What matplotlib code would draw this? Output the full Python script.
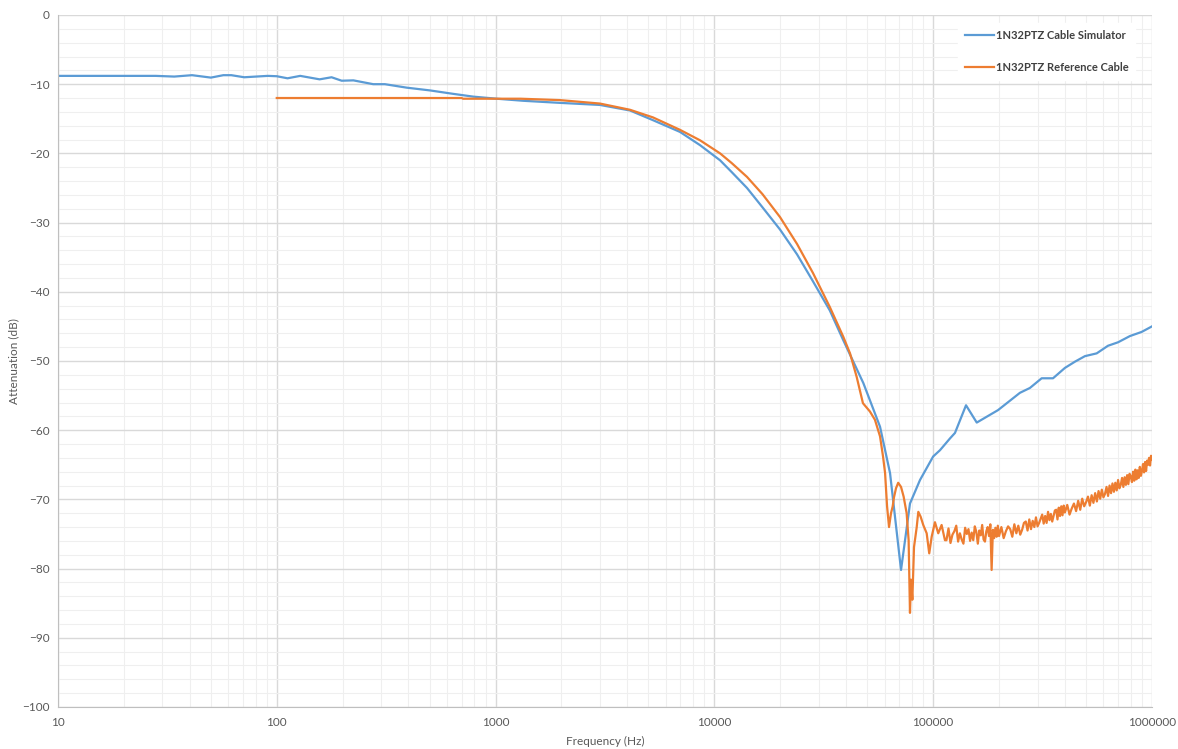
import matplotlib
matplotlib.use("Agg")
import matplotlib.pyplot as plt
import numpy as np
from matplotlib.ticker import FixedLocator, LogLocator, NullFormatter

plt.rcParams['font.family'] = ['Lato', 'DejaVu Sans']

# 1N32PTZ Cable Simulator (Hz, dB)
sim_freq = [10, 28, 34, 41, 50, 57, 62, 71, 91, 100, 112, 128, 157, 178, 198, 224,
            276, 312, 392, 501, 641, 791, 1011, 1339, 1968, 3000, 4115, 5240, 6966,
            8590, 10620, 12000, 14100, 16600, 19950, 23880, 28240, 33700, 38830,
            47970, 57170, 63520, 71310, 78350, 87060, 100000, 107400, 119300,
            125800, 141300, 158200, 197900, 249200, 276800, 313200, 353000, 400200,
            444600, 494000, 558900, 629500, 699600, 793000, 897200, 1000000]
sim_db = [-8.8, -8.8, -8.9, -8.7, -9.05, -8.7, -8.7, -9.0, -8.8, -8.85, -9.15, -8.8,
          -9.3, -9.0, -9.5, -9.45, -10.0, -10.0, -10.5, -10.9, -11.4, -11.8, -12.1,
          -12.4, -12.7, -13.0, -13.8, -15.2, -16.9, -18.8, -21.0, -22.7, -25.0,
          -27.8, -31.0, -34.6, -38.5, -42.7, -47.0, -53.2, -59.5, -66.2, -80.2,
          -70.6, -67.2, -63.8, -62.9, -61.2, -60.4, -56.4, -58.9, -57.1, -54.6,
          -53.9, -52.5, -52.5, -51.0, -50.1, -49.3, -48.9, -47.8, -47.3, -46.4,
          -45.8, -45.0]

# 1N32PTZ Reference Cable, up to ~113 kHz
ref_freq = [100, 700, 710, 1300, 1968, 3000, 4115, 5240, 6966, 8590, 10620, 12000,
            14100, 16600, 19950, 23880, 28240, 33700, 38830, 41690, 44710, 47760,
            51400, 54190, 57170, 59000, 60290, 61560, 62850, 64170, 65320, 66220,
            67620, 69210, 71310, 73290, 75640, 77240, 78350, 79180, 80330, 81740,
            84110, 85530, 87640, 90100, 93400, 95950, 98440, 101900, 105500, 109300,
            113200]
ref_db = [-12.0, -12.0, -12.1, -12.1, -12.3, -12.8, -13.7, -14.8, -16.6, -18.1,
          -20.0, -21.4, -23.4, -25.9, -29.2, -33.1, -37.3, -42.2, -46.5, -48.9,
          -52.3, -56.1, -57.3, -58.5, -60.9, -63.8, -66.2, -71.0, -74.0, -72.0,
          -71.0, -69.7, -68.4, -67.6, -68.2, -69.6, -72.0, -75.9, -86.4, -81.6,
          -84.5, -76.9, -74.0, -71.8, -72.5, -73.7, -74.9, -77.8, -75.4, -73.3,
          -74.9, -73.7, -75.9]

# noisy tail, sampled 115k-197.5k / 200k-395k / 400k-1M
tail_a_db = [-75.9, -74.2, -76.3, -75.1, -74.6, -73.8, -76.1, -74.9, -75.8, -76.4,
             -74.1, -75.0, -74.3, -76.0, -74.8, -75.9, -73.9, -74.7, -76.4, -74.5,
             -75.2, -73.7, -75.8, -76.1, -74.6, -74.0, -75.3, -73.6, -80.2, -74.4,
             -75.6, -74.1, -75.4, -73.8]
tail_b_db = [-75.3, -74.0, -75.6, -74.6, -73.9, -74.3, -75.4, -73.6, -74.9, -73.8,
             -75.1, -74.4, -73.4, -73.2, -74.5, -72.9, -74.3, -73.1, -74.0, -72.6,
             -73.9, -73.4, -72.8, -72.2, -73.5, -72.4, -73.4, -71.8, -73.0, -72.1,
             -73.2, -72.4, -71.6, -71.5, -72.9, -71.2, -72.4, -71.0, -72.3, -70.9]
tail_c_db = [-71.9, -70.8, -72.2, -71.3, -70.6, -71.7, -70.2, -71.5, -69.9, -71.0,
             -70.4, -69.6, -70.9, -69.4, -70.5, -69.1, -70.3, -68.8, -69.9, -68.6,
             -69.7, -69.2, -68.2, -69.5, -68.0, -69.1, -67.7, -68.9, -67.6, -68.7,
             -67.2, -68.4, -67.9, -66.9, -68.2, -66.8, -67.9, -66.5, -67.8, -66.3,
             -66.7, -67.5, -66.0, -67.3, -65.7, -67.1, -65.8, -66.9, -65.3, -66.6,
             -65.9, -64.9, -66.1, -64.6, -65.9, -64.4, -65.0, -64.0, -65.1, -63.7,
             -64.2]
tail_a_freq = np.arange(115000, 197501, 2500)
tail_b_freq = np.arange(200000, 395001, 5000)
tail_c_freq = np.arange(400000, 1000001, 10000)

ref_f = np.concatenate([ref_freq, tail_a_freq, tail_b_freq, tail_c_freq])
ref_v = np.concatenate([ref_db, tail_a_db, tail_b_db, tail_c_db])

fig = plt.figure(figsize=(11.78, 7.49), dpi=100)
ax = fig.add_axes([0.0492, 0.0561, 0.9287, 0.9239])

ax.plot(sim_freq, sim_db, color='#5B9BD5', lw=1.6, label='1N32PTZ Cable Simulator')
ax.plot(ref_f, ref_v, color='#ED7D31', lw=1.6, label='1N32PTZ Reference Cable')

ax.set_xscale('log')
ax.set_xlim(10, 1e6)
ax.set_ylim(-100, 0)
ax.set_xticks([10, 100, 1000, 10000, 100000, 1000000])
ax.set_xticklabels(['10', '100', '1000', '10000', '100000', '1000000'])
ax.xaxis.set_minor_locator(LogLocator(base=10, subs=np.arange(2, 10)))
ax.xaxis.set_minor_formatter(NullFormatter())
ax.set_yticks(np.arange(-100, 1, 10))
ax.yaxis.set_minor_locator(FixedLocator(np.arange(-100, 1, 2)))

ax.grid(True, which='major', color='#D9D9D9', lw=1.0)
ax.grid(True, which='minor', color='#EFEFEF', lw=0.8)
ax.set_axisbelow(True)
ax.tick_params(which='both', length=0, labelsize=8.5, labelcolor='#595959')
ax.tick_params(axis='x', pad=7)
ax.tick_params(axis='y', pad=6)

for s in ['top', 'right']:
    ax.spines[s].set_visible(False)
for s in ['left', 'bottom']:
    ax.spines[s].set_color('#BFBFBF')

ax.set_xlabel('Frequency (Hz)', fontsize=8.5, color='#595959', labelpad=6)
ax.set_ylabel('Attenuation (dB)', fontsize=8.5, color='#595959')
ax.yaxis.set_label_coords(-0.035, 0.5)

leg = ax.legend(loc='upper right', bbox_to_anchor=(0.99, 0.996), frameon=True,
                fontsize=8, handlelength=2.6, labelspacing=1.9, borderpad=0.6,
                handletextpad=0.2)
leg.get_frame().set_facecolor('white')
leg.get_frame().set_edgecolor('white')
leg.get_frame().set_alpha(1)
for t in leg.get_texts():
    t.set_fontweight('bold')
    t.set_color('#404040')

fig.savefig('out.png', dpi=100)
